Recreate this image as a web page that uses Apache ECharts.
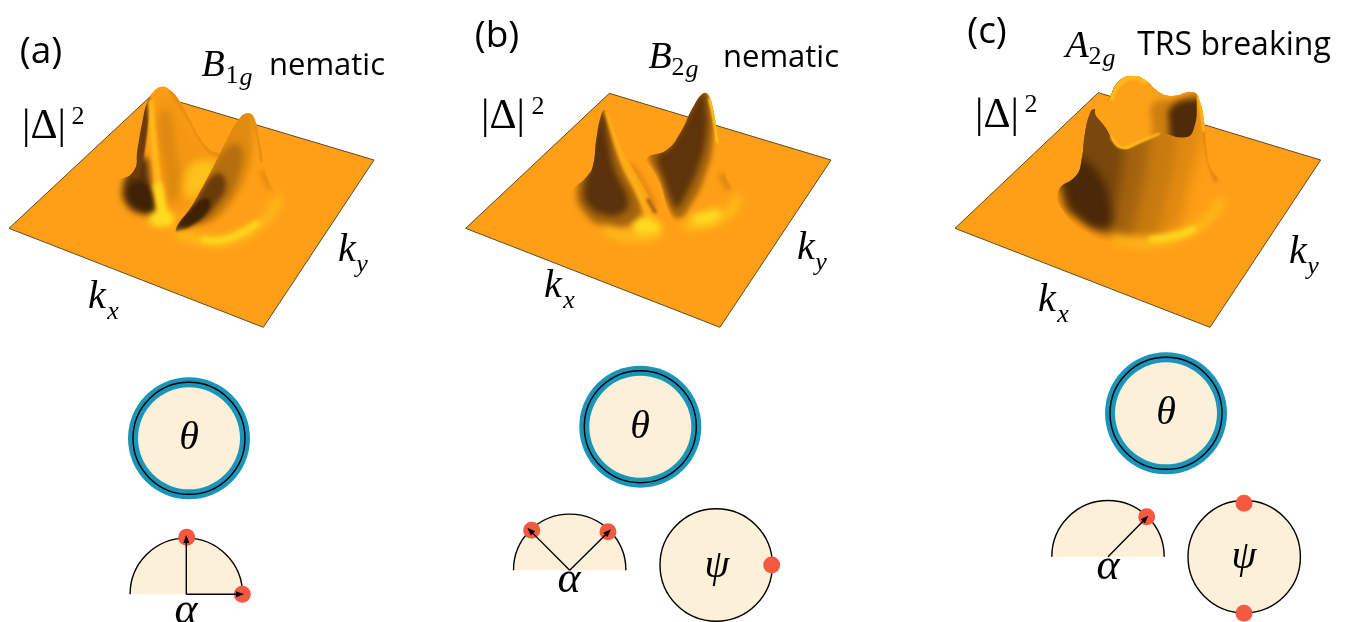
<!DOCTYPE html>
<html>
<head>
<meta charset="utf-8">
<style>html,body{margin:0;background:#fff}#main{width:1347px;height:622px}</style>
<script src="https://cdn.jsdelivr.net/npm/echarts@6/dist/echarts.min.js"></script>
</head>
<body>
<div id="main"></div>
<script>
// surface outlines (crop units: 3 per pixel, one crop per panel)
var aPlane = [[27,475],[459,72],[1122,270],[790,772]];
var aRingLong = [[535,492],[600,512],[660,518],[720,502],[780,465],[820,418],[832,385]];
var aRingCore = [[610,508],[665,510],[725,488],[770,460]];
var aGlow = [[450,432],[505,425],[522,455],[490,470],[450,458]];
var aBack = [[335,345],[400,305],[412,240],[428,150],[442,95],[460,65],[485,50],[510,60],[540,95],[570,150],[600,205],[630,240],[660,255],[650,300],[600,400],[530,485],[490,490],[440,470],[390,460],[335,410]];
var aBackTone = [[470,80],[520,90],[590,215],[640,270],[620,350],[520,420],[490,300]];
var aBackBand = [[478,130],[508,130],[530,250],[542,345],[510,395],[492,300]];
var aBackRim = [[515,65],[570,150],[620,232],[655,255]];
var aBackBase = [[400,290],[368,350],[382,408],[425,432],[472,432],[452,335],[436,260]];
var aBackCore = [[398,340],[388,385],[425,418],[458,418],[440,345]];
var aBackSliver = [[438,95],[427,170],[418,240],[405,310]];
var aBackRidge = [[452,95],[458,180],[468,280],[480,380],[492,445]];
var aBackLow = [[474,350],[488,440]];
var aBackGlow = [[565,295],[630,270],[648,300],[600,370],[560,385]];
var aFront = [[525,490],[580,400],[640,290],[680,210],[715,150],[745,130],[765,150],[780,220],[795,300],[815,350],[840,390],[810,450],[740,500],[640,525],[560,510]];
var aFrontTone = [[590,440],[620,300],[675,185],[742,115],[757,200],[745,300],[700,390],[640,450]];
var aFrontWarm = [[570,440],[625,320],[685,230],[725,235],[712,330],[668,410],[600,462]];
var aFrontDeep = [[540,470],[590,385],[650,310],[678,340],[650,400],[590,458]];
var aFrontCore = [[525,480],[570,420],[620,385],[628,415],[570,468]];
var aFrontEdge = [[752,138],[770,180],[785,270]];
var aFrontFoot = [[790,310],[808,350]];

var bPlane = [[17,475],[448,70],[1113,270],[780,772]];
var bLeft = [[335,370],[380,320],[398,290],[410,200],[425,130],[435,120],[445,130],[475,210],[510,280],[545,340],[590,420],[635,480],[570,520],[480,510],[420,490],[350,440]];
var bLeftHalo = [[436,110],[462,200],[495,300],[545,420],[510,465],[425,465],[375,430],[350,370],[375,290],[395,200],[420,110]];
var bLeftDark = [[432,125],[445,210],[465,300],[505,395],[480,432],[425,432],[385,405],[372,368],[385,300],[400,210],[425,125]];
var bLeftRidge = [[444,125],[460,180],[492,275],[532,355],[572,445]];
var bLeftGlow = [[525,455],[570,445],[605,478],[570,492],[525,485]];
var bRingLeft = [[440,480],[510,502],[590,497]];
var bHump = [[505,278],[530,292],[560,340],[595,410],[570,395],[525,325]];
var bGap = [[565,390],[585,425]];
var bRight = [[560,265],[620,240],[660,190],[700,110],[730,70],[745,75],[760,120],[775,210],[795,300],[810,345],[845,385],[810,445],[730,485],[670,490],[645,460],[625,420],[600,340],[575,295]];
var bRightHalo = [[565,250],[610,225],[650,175],[695,95],[730,55],[752,112],[760,205],[738,310],[690,410],[652,445],[622,400],[600,330]];
var bRightDark = [[590,258],[620,240],[660,185],[700,105],[730,65],[740,120],[738,205],[712,300],[672,385],[650,415],[632,385],[612,330]];
var bRightRidge = [[750,88],[764,150],[773,215]];
var bRightFoot = [[787,320],[803,350]];
var bRightGlow = [[695,440],[735,425],[780,418],[770,450],[705,462]];
var bRingRight = [[680,470],[760,455],[810,425],[832,385]];

var cPlane = [[30,505],[460,98],[1127,300],[795,802]];
var cCrown = [[340,395],[395,345],[410,300],[420,220],[435,160],[447,147],[460,150],[490,120],[520,65],[565,48],[600,60],[640,95],[680,108],[745,97],[765,125],[778,190],[785,270],[800,330],[845,380],[850,440],[800,510],[720,555],[620,575],[520,555],[430,520],[360,460]];
var cStrip710 = [[340,60],[725,60],[715,470],[640,520],[560,525],[480,505],[410,470],[360,420]];
var cStrip640 = [[340,60],[650,60],[645,505],[560,522],[480,503],[410,468],[360,420]];
var cStrip570 = [[340,60],[570,60],[565,518],[480,502],[410,466],[360,420]];
var cStrip500 = [[340,60],[500,60],[500,505],[410,466],[368,420]];
var cStrip440 = [[360,300],[445,320],[500,470],[470,505],[400,470],[365,420]];
var cRightEdge = [[778,200],[790,290],[812,360]];
var cInner = [[450,150],[490,120],[520,65],[565,48],[600,60],[640,95],[680,108],[745,97],[755,130],[745,210],[720,232],[640,222],[590,245],[530,265],[480,200]];
var cInnerHalo = [[625,130],[680,120],[790,100],[790,250],[640,250],[622,190]];
var cInnerDark = [[680,140],[745,118],[790,130],[790,250],[690,250],[672,185]];
var cRimFront = [[500,232],[530,262],[590,243],[640,222]];
var cRimBack = [[500,115],[525,70],[565,52],[600,65]];
var cRimRight = [[762,115],[770,150],[777,210]];
var cRingLong = [[515,538],[620,548],[720,522],[790,476],[828,425]];
var cRingCore = [[620,538],[690,528],[745,508]];

// discs and angle markers, figure pixels
var thetaDiscs = [[189,438.3],[640.3,426.7],[1166,413.3]];
var halfDiscs = [[186.3,594.3],[569.7,570.3],[1108,556.7]];
var psiDiscs = [[716.2,565],[1244.2,556.7]];
var redDots = [[186.7,537.3],[242.3,594.3],[531.7,530.3],[608,531.7],[771.7,565],[1146.7,516.7],[1244,503.3],[1244,613.3]];
var arrows = [
    [[186.3,594.3],[186.3,535]],
    [[186.3,594.3],[244,594.3]],
    [[569.7,570.3],[527.3,527.7]],
    [[569.7,570.3],[611,529.3]],
    [[1108,556.7],[1148.3,515.7]]
];

var orange = '#ff9f17', brown = '#4b2808', yellow = '#ffd21c';

// each layer: outline, colour, blur, stroke width, clip outline
var layersA = [
    {pts: aPlane, color: orange, edge: true, sharp: true},
    {pts: aBack, color: orange},
    {pts: aBackTone, color: '#f49713', blur: 8, clip: aBack},
    {pts: aBackBand, color: '#df8a10', blur: 6, clip: aBack},
    {pts: aBackRim, color: '#e68e0f', blur: 3, width: 5, clip: aBack},
    {pts: aBackBase, color: '#5a320b', blur: 6, clip: aBack},
    {pts: aBackCore, color: '#3f2206', blur: 4, clip: aBack},
    {pts: aBackSliver, color: '#6b3c0a', blur: 2, width: 11, clip: aBack},
    {pts: aBackRidge, color: '#ffb81b', blur: 3, width: 6, clip: aBack},
    {pts: aBackLow, color: '#ffd81f', blur: 5, width: 10, clip: aBack},
    {pts: aGlow, color: '#ffdc20', blur: 6, clip: aPlane},
    {pts: aBackGlow, color: '#ffc21a', blur: 9, clip: aBack},
    {pts: aFront, color: orange},
    {pts: aFrontTone, color: '#e08a10', blur: 6, clip: aFront},
    {pts: aFrontWarm, color: '#b56f0f', blur: 6, clip: aFront},
    {pts: aFrontDeep, color: '#6b3c0a', blur: 5, clip: aFront},
    {pts: aFrontCore, color: '#3f2206', blur: 3, clip: aFront},
    {pts: aFrontEdge, color: '#e8900f', blur: 2, width: 4, clip: aFront},
    {pts: aFrontFoot, color: '#e8900f', blur: 5, width: 8, clip: aFront},
    {pts: aRingLong, color: '#ffbe1a', blur: 8, width: 8, clip: aPlane},
    {pts: aRingCore, color: '#ffdc20', blur: 5, width: 6, clip: aPlane}
];
var layersB = [
    {pts: bPlane, color: orange, edge: true, sharp: true},
    {pts: bHump, color: '#e88d10', blur: 4, clip: bPlane},
    {pts: bLeft, color: orange},
    {pts: bLeftHalo, color: '#a5640e', blur: 6, clip: bLeft},
    {pts: bLeftDark, color: '#5a320b', blur: 6, clip: bLeft},
    {pts: bLeftRidge, color: '#fdae1a', blur: 3, width: 7, clip: bLeft},
    {pts: bRingLeft, color: '#ffc01a', blur: 8, width: 8, clip: bPlane},
    {pts: bLeftGlow, color: '#ffdc20', blur: 6, clip: bPlane},
    {pts: bGap, color: '#a5640e', blur: 3, width: 4, clip: bPlane},
    {pts: bRight, color: orange},
    {pts: bRightHalo, color: '#a9680e', blur: 5, clip: bRight},
    {pts: bRightDark, color: '#5e340a', blur: 6, clip: bRight},
    {pts: bRightRidge, color: '#ffc21c', blur: 2, width: 4, clip: bRight},
    {pts: bRightFoot, color: '#e08a10', blur: 5, width: 8, clip: bRight},
    {pts: bRingRight, color: '#ffc01a', blur: 8, width: 8, clip: bPlane},
    {pts: bRightGlow, color: '#ffdc20', blur: 7, clip: bPlane}
];
var layersC = [
    {pts: cPlane, color: orange, edge: true, sharp: true},
    {pts: cCrown, color: orange},
    {pts: cStrip710, color: '#e28b11', blur: 12, clip: cCrown},
    {pts: cStrip640, color: '#c87b10', blur: 12, clip: cCrown},
    {pts: cStrip570, color: '#a4640f', blur: 12, clip: cCrown},
    {pts: cStrip500, color: '#7a480c', blur: 12, clip: cCrown},
    {pts: cStrip440, color: brown, blur: 8, clip: cCrown},
    {pts: cRightEdge, color: '#e08a10', blur: 3, width: 5, clip: cCrown},
    {pts: cInner, color: '#fca218'},
    {pts: cInnerHalo, color: '#cc7e10', blur: 6, clip: cInner},
    {pts: cInnerDark, color: '#4f2b09', blur: 6, clip: cInner},
    {pts: cRimFront, color: '#ffba1b', blur: 2, width: 3, clip: cCrown},
    {pts: cRimBack, color: '#ffba1b', blur: 2, width: 5, clip: cCrown},
    {pts: cRimRight, color: '#ffb41a', blur: 2, width: 4, clip: cCrown},
    {pts: cRingLong, color: '#ffbe1a', blur: 8, width: 8, clip: cPlane},
    {pts: cRingCore, color: '#ffdc20', blur: 5, width: 6, clip: cPlane}
];

var panelCrops = [[0,70,400,270],[460,70,400,270],[945,60,400,270]];
var panelLayers = [layersA, layersB, layersC];
var planeOutlines = [aPlane, bPlane, cPlane];

// text: content, x, y, kind
var labelTexts = ['(a)','(b)','(c)','nematic','nematic','TRS breaking',
    'B','1','g','B','2','g','A','2','g',
    '|Δ|','2','|Δ|','2','|Δ|','2',
    'k','x','k','y','k','x','k','y','k','x','k','y',
    'θ','θ','θ','ψ','ψ','α','α','α'];
var labelKinds = ['tag','tag','tag','sans','sans','sans2',
    'math','rsub','sub','math','rsub','sub','math','rsub','sub',
    'roman','rsub','roman','rsub','roman','rsub',
    'mathk','sub','mathk','sub','mathk','sub','mathk','sub','mathk','sub','mathk','sub',
    'greek','greek','greek','greek','greek','alpha','alpha','alpha'];
var labelSpots = [[41,52],[497,36],[987,32],[327,66],[781,58],[1234,46],
    [213,66],[232,76],[246,78],[660,58],[678,68],[692,70],[1077,47],[1095,57],[1109,59],
    [44,127],[78,117],[503,117],[538,107],[997,116],[1031,105],
    [97,297],[113,312],[347,250],[362,265],[553,286],[569,301],[806,248],[821,263],[1047,300],[1063,315],[1298,252],[1313,267],
    [189,438],[640,427],[1166,413],[717,566],[1244,557],[186,611],[569,580],[1108,567]];

var fonts = {
    tag: {size: 37, family: '"Open Sans"', style: 'normal'},
    sans: {size: 31, family: '"Open Sans"', style: 'normal'},
    sans2: {size: 32, family: '"Open Sans"', style: 'normal'},
    math: {size: 38, family: '"Liberation Serif"', style: 'italic'},
    mathk: {size: 40, family: '"Liberation Serif"', style: 'italic'},
    greek: {size: 40, family: '"Liberation Serif"', style: 'italic'},
    alpha: {size: 44, family: '"Liberation Serif"', style: 'italic'},
    sub: {size: 26, family: '"Liberation Serif"', style: 'italic'},
    roman: {size: 42, family: '"Liberation Serif"', style: 'normal'},
    rsub: {size: 26, family: '"Liberation Serif"', style: 'normal'}
};

function soft(api, layer) {
    var pts = layer.pts.map(function (p) { return api.coord(p); });
    var el = {type: layer.width ? 'polyline' : 'polygon', shape: {points: pts, smooth: layer.sharp ? 0 : 0.5}, silent: true};
    if (layer.blur) {
        // draw off the page, keep only the blurred shadow
        el.x = -3000;
        el.style = {shadowColor: layer.color, shadowBlur: layer.blur, shadowOffsetX: 3000};
    } else {
        el.style = {};
    }
    if (layer.width) {
        el.style.fill = null;
        el.style.stroke = layer.color;
        el.style.lineWidth = layer.width;
        el.style.lineJoin = 'round';
        el.style.lineCap = 'round';
    } else {
        el.style.fill = layer.color;
        if (layer.edge) { el.style.stroke = '#5b4a24'; el.style.lineWidth = 1; }
    }
    var out = {type: 'group', children: [el]};
    if (layer.clip) {
        out.clipPath = {type: 'polygon', shape: {
            points: layer.clip.map(function (p) { return api.coord(p); }),
            smooth: planeOutlines.indexOf(layer.clip) >= 0 ? 0 : 0.5
        }};
    }
    return out;
}

var grids = [], xAxes = [], yAxes = [], series = [];
panelCrops.forEach(function (c, i) {
    grids.push({left: c[0], top: c[1], width: c[2], height: c[3]});
    xAxes.push({type: 'value', gridIndex: i, min: 0, max: c[2] * 3, show: false});
    yAxes.push({type: 'value', gridIndex: i, min: 0, max: c[3] * 3, inverse: true, show: false});
    series.push({
        type: 'custom', xAxisIndex: i, yAxisIndex: i, clip: false, silent: true, animation: false,
        data: panelLayers[i].map(function (l, k) { return [k, 0]; }),
        renderItem: function (params, api) { return soft(api, panelLayers[i][params.dataIndex]); }
    });
});

// the whole page in figure pixels
grids.push({left: 0, top: 0, width: 1347, height: 622});
xAxes.push({type: 'value', gridIndex: 3, min: 0, max: 1347, show: false});
yAxes.push({type: 'value', gridIndex: 3, min: 0, max: 622, inverse: true, show: false});

var cream = '#fdf0d9', blue = '#1a94b8', red = '#f55a40';

function figureSeries(data, z, renderItem) {
    return {type: 'custom', xAxisIndex: 3, yAxisIndex: 3, clip: false, silent: true, animation: false,
        z: z, data: data, renderItem: renderItem};
}

series.push(figureSeries(thetaDiscs, 3, function (params, api) {
    var c = api.coord([api.value(0), api.value(1)]);
    return {type: 'group', children: [
        {type: 'circle', shape: {cx: c[0], cy: c[1], r: 61}, style: {fill: blue}},
        {type: 'circle', shape: {cx: c[0], cy: c[1], r: 51}, style: {fill: cream}},
        {type: 'circle', shape: {cx: c[0], cy: c[1], r: 56}, style: {fill: null, stroke: '#000', lineWidth: 1.4}}
    ]};
}));
series.push(figureSeries(psiDiscs, 3, function (params, api) {
    var c = api.coord([api.value(0), api.value(1)]);
    return {type: 'circle', shape: {cx: c[0], cy: c[1], r: 56.2}, style: {fill: cream, stroke: '#000', lineWidth: 1.4}};
}));
series.push(figureSeries(halfDiscs, 3, function (params, api) {
    var c = api.coord([api.value(0), api.value(1)]);
    return {type: 'group', children: [
        {type: 'sector', shape: {cx: c[0], cy: c[1], r: 56.2, r0: 0, startAngle: Math.PI, endAngle: 2 * Math.PI, clockwise: true}, style: {fill: cream}},
        {type: 'arc', shape: {cx: c[0], cy: c[1], r: 56.2, startAngle: Math.PI, endAngle: 2 * Math.PI, clockwise: true}, style: {fill: null, stroke: '#000', lineWidth: 1.4}}
    ]};
}));
series.push(figureSeries(redDots, 4, function (params, api) {
    var c = api.coord([api.value(0), api.value(1)]);
    return {type: 'circle', shape: {cx: c[0], cy: c[1], r: 8.5}, style: {fill: red}};
}));
series.push(figureSeries(arrows.map(function (a) { return [a[0][0], a[0][1], a[1][0], a[1][1]]; }), 5, function (params, api) {
    var s = api.coord([api.value(0), api.value(1)]);
    var e = api.coord([api.value(2), api.value(3)]);
    var dx = e[0] - s[0], dy = e[1] - s[1], len = Math.sqrt(dx * dx + dy * dy);
    dx /= len; dy /= len;
    var bx = e[0] - dx * 8, by = e[1] - dy * 8;
    return {type: 'group', children: [
        {type: 'line', shape: {x1: s[0], y1: s[1], x2: bx, y2: by}, style: {stroke: '#000', lineWidth: 1.4}},
        {type: 'polygon', shape: {points: [e, [bx - dy * 3, by + dx * 3], [bx + dy * 3, by - dx * 3]]}, style: {fill: '#000'}}
    ]};
}));
series.push(figureSeries(labelSpots, 6, function (params, api) {
    var c = api.coord([api.value(0), api.value(1)]);
    var f = fonts[labelKinds[params.dataIndex]];
    return {type: 'text', x: c[0], y: c[1], style: {
        text: labelTexts[params.dataIndex], fill: '#000', align: 'center', verticalAlign: 'middle',
        font: f.style + ' ' + f.size + 'px ' + f.family
    }};
}));

var myChart = echarts.init(document.getElementById('main'), null, {renderer: 'canvas'});
myChart.setOption({animation: false, grid: grids, xAxis: xAxes, yAxis: yAxes, series: series});
</script>
</body>
</html>
